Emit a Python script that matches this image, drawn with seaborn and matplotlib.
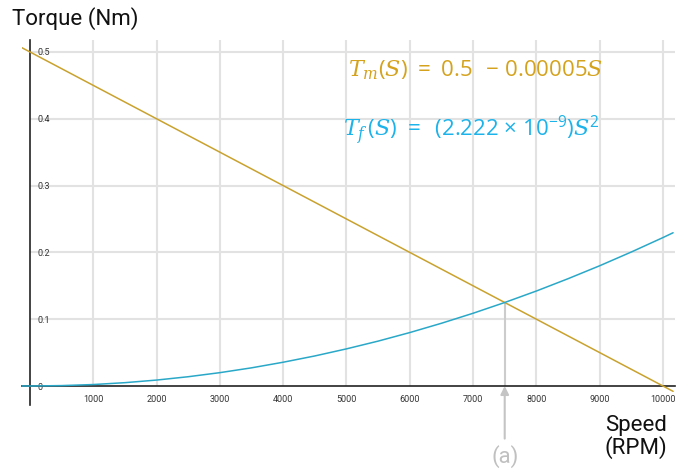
import seaborn as sns
import pandas as pd
import matplotlib
matplotlib.use('Agg')
import matplotlib.pyplot as plt

# Values (speed in RPM, torque in Nm)
speed = [-130, 0, 500, 1000, 1500, 2000, 2500, 3000, 3500, 4000, 4500, 5000,
         5500, 6000, 6500, 7000, 7500, 8000, 8500, 9000, 9500, 10000, 10160]
motor_torque = [0.5065, 0.5, 0.475, 0.45, 0.425, 0.4, 0.375, 0.35, 0.325, 0.3, 0.275, 0.25,
                0.225, 0.2, 0.175, 0.15, 0.125, 0.1, 0.075, 0.05, 0.025, 0.0, -0.008]
friction_torque = [0.00004, 0.0, 0.0006, 0.0022, 0.005, 0.0089, 0.0139, 0.02, 0.0272, 0.0356,
                   0.045, 0.0556, 0.0672, 0.08, 0.0939, 0.1089, 0.125, 0.1422, 0.1606, 0.18,
                   0.2006, 0.2222, 0.2294]
speed_ticks = [1000, 2000, 3000, 4000, 5000, 6000, 7000, 8000, 9000, 10000]
torque_ticks = [0, 0.1, 0.2, 0.3, 0.4, 0.5]
torque_tick_labels = ['0', '0.1', '0.2', '0.3', '0.4', '0.5']
crossing_speed = 7500
crossing_torque = 0.125

gold_line = '#c9a22e'
blue_line = '#2aa8c8'
gold_text = '#d4a21c'
blue_text = '#1cb2ea'
grid_col = '#e2e2e2'

df = pd.DataFrame({
    'speed': speed * 2,
    'torque': motor_torque + friction_torque,
    'curve': ['motor'] * len(speed) + ['friction'] * len(speed),
})

sns.set_style('white')
plt.rcParams['font.family'] = ['Roboto', 'DejaVu Sans']
plt.rcParams['mathtext.fontset'] = 'custom'
plt.rcParams['mathtext.rm'] = 'Open Sans'
plt.rcParams['mathtext.it'] = 'DejaVu Serif:italic'

fig = plt.figure(figsize=(6.79, 4.69), dpi=100)
ax = fig.add_axes([0.0324, 0.1365, 0.9617, 0.7783])
ax.set_xlim(-126, 10190)
ax.set_ylim(-0.0284, 0.518)

# grid lines only in the positive quadrant
ax.vlines(speed_ticks, 0, 0.518, color=grid_col, lw=1.5, zorder=0)
ax.hlines(torque_ticks[1:], 0, 10190, color=grid_col, lw=1.5, zorder=0)

sns.lineplot(data=df, x='speed', y='torque', hue='curve',
             palette={'motor': gold_line, 'friction': blue_line},
             linewidth=1.1, legend=False, sort=False, ax=ax, zorder=3)

# guide from the crossing point down to the axis
ax.vlines(crossing_speed, 0, crossing_torque, color='#cccccc', lw=1.5, zorder=1)
ax.annotate('(a)', xy=(crossing_speed, 0), xytext=(crossing_speed, -0.105),
            ha='center', va='center', fontsize=16, color='#c0c0c0',
            annotation_clip=False,
            arrowprops=dict(arrowstyle='-|>', color='#c4c4c4', lw=1.5,
                            mutation_scale=12, shrinkA=2, shrinkB=0))

for side in ['top', 'right']:
    ax.spines[side].set_visible(False)
ax.spines['left'].set_position(('data', 0))
ax.spines['bottom'].set_position(('data', 0))
for side in ['left', 'bottom']:
    ax.spines[side].set_color('#222222')
    ax.spines[side].set_linewidth(1.2)

ax.set_xticks(speed_ticks)
ax.set_yticks(torque_ticks, torque_tick_labels)
ax.tick_params(direction='inout', length=7, width=1, colors='#222222',
               labelsize=6.5, labelcolor='#333333')
ax.tick_params(axis='x', pad=3)
ax.tick_params(axis='y', pad=-9)
for lbl in ax.get_yticklabels():
    lbl.set_horizontalalignment('left')
ax.set_xlabel('')
ax.set_ylabel('')

fig.text(12 / 679, 1 - 19 / 469, 'Torque (Nm)', fontsize=16, va='center', color='#111111')
fig.text(667 / 679, 1 - 437 / 469, 'Speed\n(RPM)', fontsize=16, ha='right', va='center',
         color='#111111', linespacing=1.0)

fig.text(348 / 679, 1 - 70 / 469, r'$T_m(S)\ {=}\;0.5\ \ {-}\;0.00005S$',
         fontsize=16, color=gold_text, va='center')
fig.text(343 / 679, 1 - 130 / 469,
         r'$T_f\,(S)\ {=}\ \,(2.222\;{\times}\;10^{-9})S^2$',
         fontsize=16, color=blue_text, va='center')

fig.savefig('out.png', dpi=100)
